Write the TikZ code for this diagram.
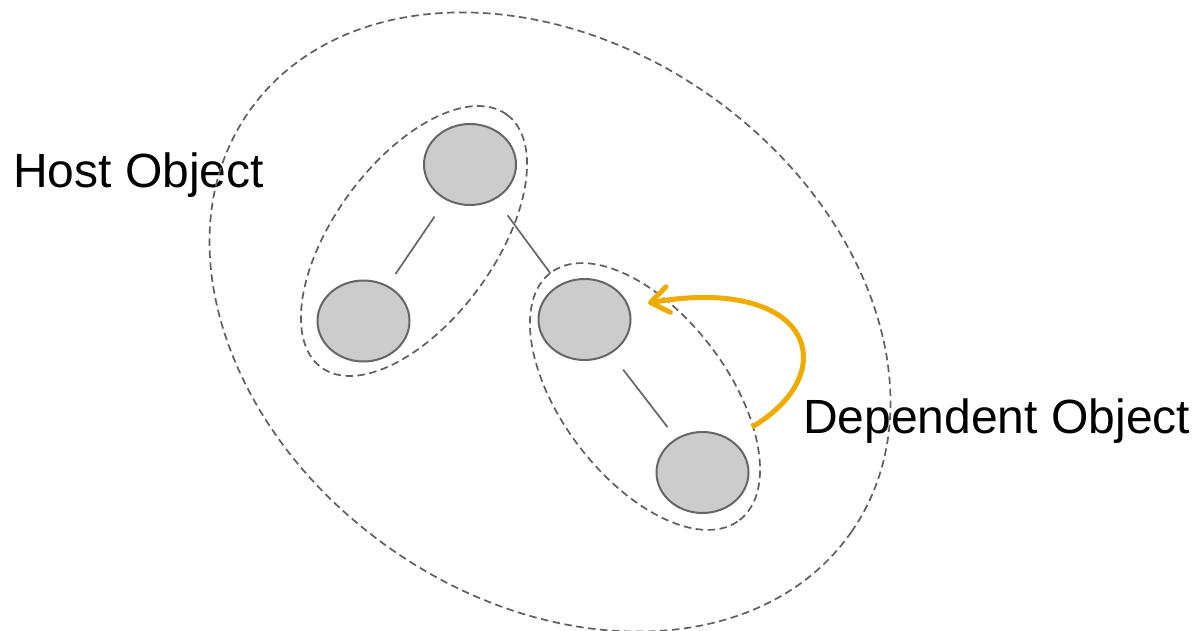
\documentclass[tikz,border=0pt]{standalone}
\usepackage{fontspec}
\setmainfont{Liberation Sans}
\usetikzlibrary{shapes.geometric,arrows.meta}
\definecolor{objfill}{HTML}{CCCCCC}
\definecolor{objline}{HTML}{666666}
\definecolor{grpline}{HTML}{5F5F5F}
\definecolor{depcol}{HTML}{F0AB00}

\begin{document}
\begin{tikzpicture}[x=1pt,y=-1pt,
  obj/.style={ellipse, draw=objline, fill=objfill, line width=2pt,
    minimum width=92pt, minimum height=81pt, inner sep=0pt},
  grp/.style={ellipse, draw=grpline, line width=1.7pt,
    dash pattern=on 7.5pt off 4.5pt, inner sep=0pt, outer sep=0pt},
  link/.style={draw=objline, line width=1.7pt, shorten <=20pt, shorten >=14pt},
  dep/.style={draw=depcol, line width=5pt,
    -{Straight Barb[length=18pt,width=26pt,round]}},
  lbl/.style={font=\fontsize{48}{58}\selectfont, inner sep=0pt, anchor=base west}
]
\useasboundingbox (0,0) rectangle (1196,631);

% labels
\node[lbl] (hostlbl) at (13,188) {Host Object};
\node[lbl] (deplbl) at (803,433) {Dependent Object};

% grouping outlines
\node[grp, rotate=-34.9, minimum width=734.6pt, minimum height=554.4pt] (host) at (550,322) {};
\node[grp, rotate=53.7, minimum width=313.6pt, minimum height=160.2pt] (upper) at (414,241) {};
\node[grp, rotate=-52.6, minimum width=311.2pt, minimum height=165.2pt] (lower) at (645,396.5) {};

% objects
\node[obj] (A) at (470,164.5) {};
\node[obj] (B) at (363.5,321) {};
\node[obj] (C) at (584.5,319.5) {};
\node[obj] (D) at (702.5,472.5) {};

% relations
\draw[link] (A) -- (B);
\draw[link] (A) -- (C);
\draw[link] (C) -- (D);

% dependency arrow
\coordinate (depstart) at (752,427);
\coordinate (deptip) at (648,303);
\draw[dep] (depstart) .. controls (845,372) and (812,275) .. (deptip);
\end{tikzpicture}
\end{document}
